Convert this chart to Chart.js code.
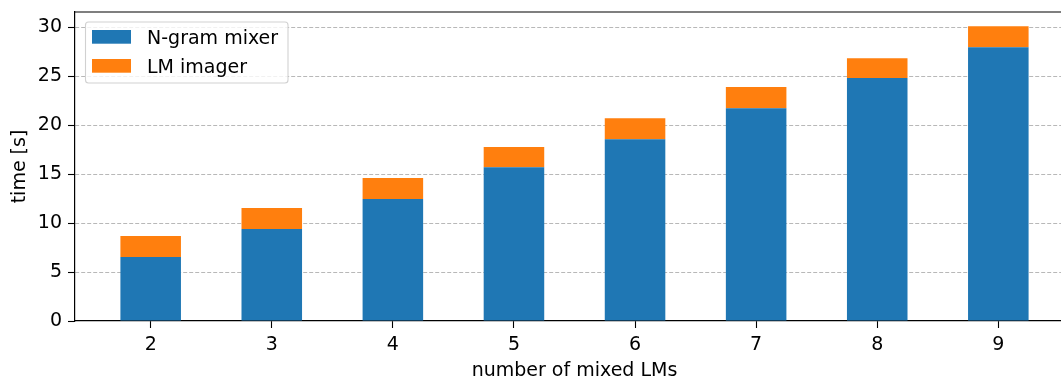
<!DOCTYPE html>
<html>
<head>
<meta charset="utf-8">
<script src="https://cdn.jsdelivr.net/npm/chart.js@4.4.1/dist/chart.umd.min.js"></script>
<style>
  html, body { margin: 0; padding: 0; background: #fff; overflow: hidden; }
  #wrap { position: relative; width: 1074px; height: 382px; }
</style>
</head>
<body>
<div id="wrap"><canvas id="c"></canvas></div>
<script>
// Number of mixed language models (x positions)
const lmCounts = [2, 3, 4, 5, 6, 7, 8, 9];
// Time spent in each stage, seconds
const mixerTime  = [6.53, 9.39, 12.45, 15.71, 18.57, 21.73, 24.80, 27.96];
const imagerTime = [2.14, 2.14, 2.14, 2.05, 2.14, 2.15, 2.04, 2.14];
// Y axis tick values
const yTicks = [0, 5, 10, 15, 20, 25, 30];

const FONT = { family: '"DejaVu Sans", sans-serif', size: 19 };

// Top/right axis frame lines
const frame = {
  id: 'frame',
  afterDatasetsDraw(chart) {
    const { ctx, chartArea: a } = chart;
    ctx.save();
    ctx.strokeStyle = '#000';
    ctx.lineWidth = 1.2;
    ctx.beginPath();
    ctx.moveTo(a.left, a.top);
    ctx.lineTo(a.right, a.top);
    ctx.lineTo(a.right, a.bottom);
    ctx.stroke();
    ctx.restore();
  }
};

// Legend box in the upper-left corner of the plot area
const innerLegend = {
  id: 'innerLegend',
  afterDraw(chart) {
    const { ctx, chartArea: a } = chart;
    const x = a.left + 10.5, y = 22, w = 202.5, h = 61;
    ctx.save();
    ctx.beginPath();
    ctx.roundRect(x, y, w, h, 3);
    ctx.fillStyle = 'rgba(255,255,255,0.8)';
    ctx.fill();
    ctx.strokeStyle = 'rgba(204,204,204,0.9)';
    ctx.lineWidth = 1.1;
    ctx.stroke();
    ctx.font = '19px "DejaVu Sans", sans-serif';
    ctx.textBaseline = 'alphabetic';
    chart.data.datasets.forEach((ds, i) => {
      const ry = 30 + i * 29;
      ctx.fillStyle = ds.backgroundColor;
      ctx.fillRect(a.left + 17, ry, 39, 13.7);
      ctx.fillStyle = '#000';
      ctx.fillText(ds.label, a.left + 72, ry + 14.3);
    });
    ctx.restore();
  }
};

const barStyle = { barPercentage: 0.5, categoryPercentage: 1.0, borderWidth: 0 };

new Chart(document.getElementById('c'), {
  type: 'bar',
  data: {
    datasets: [
      Object.assign({
        label: 'N-gram mixer',
        data: lmCounts.map((x, i) => ({ x, y: mixerTime[i] })),
        backgroundColor: '#1f77b4'
      }, barStyle),
      Object.assign({
        label: 'LM imager',
        data: lmCounts.map((x, i) => ({ x, y: imagerTime[i] })),
        backgroundColor: '#ff7f0e'
      }, barStyle)
    ]
  },
  options: {
    animation: false,
    responsive: true,
    maintainAspectRatio: false,
    devicePixelRatio: 1,
    layout: { padding: { top: 12, right: 0, bottom: 0, left: 0 } },
    plugins: { legend: { display: false }, tooltip: { enabled: false } },
    scales: {
      x: {
        type: 'linear',
        stacked: true,
        offset: false,
        min: 1.375,
        max: 9.625,
        afterBuildTicks: s => { s.ticks = lmCounts.map(v => ({ value: v })); },
        afterFit: s => { s.height = 61; s.paddingLeft = 0; s.paddingRight = 0; },
        ticks: {
          font: FONT, color: '#000', padding: 5.5,
          maxRotation: 0, autoSkip: false,
          callback: v => String(v)
        },
        grid: {
          offset: false, drawOnChartArea: false, drawTicks: true,
          tickLength: 7, tickColor: '#000', tickWidth: 1.1
        },
        border: { color: '#000', width: 1.2 },
        title: {
          display: true, text: 'number of mixed LMs',
          font: FONT, color: '#000', padding: { top: 0, bottom: 0 }
        }
      },
      y: {
        stacked: true,
        min: 0,
        max: 31.55,
        afterBuildTicks: s => { s.ticks = yTicks.map(v => ({ value: v })); },
        afterFit: s => { s.width = 75; s.paddingTop = 0; s.paddingBottom = 0; },
        ticks: { font: FONT, color: '#000', padding: 6 },
        grid: {
          color: c => (c.tick && c.tick.value === 0) ? 'rgba(0,0,0,0)' : '#b0b0b0',
          lineWidth: 0.9,
          drawTicks: true, tickLength: 7, tickColor: '#000', tickWidth: 1.1
        },
        border: { color: '#000', width: 1.2, dash: [4, 2] },
        title: {
          display: true, text: 'time [s]',
          font: FONT, color: '#000', padding: { top: 9, bottom: 0 }
        }
      }
    }
  },
  plugins: [frame, innerLegend]
});
</script>
</body>
</html>
